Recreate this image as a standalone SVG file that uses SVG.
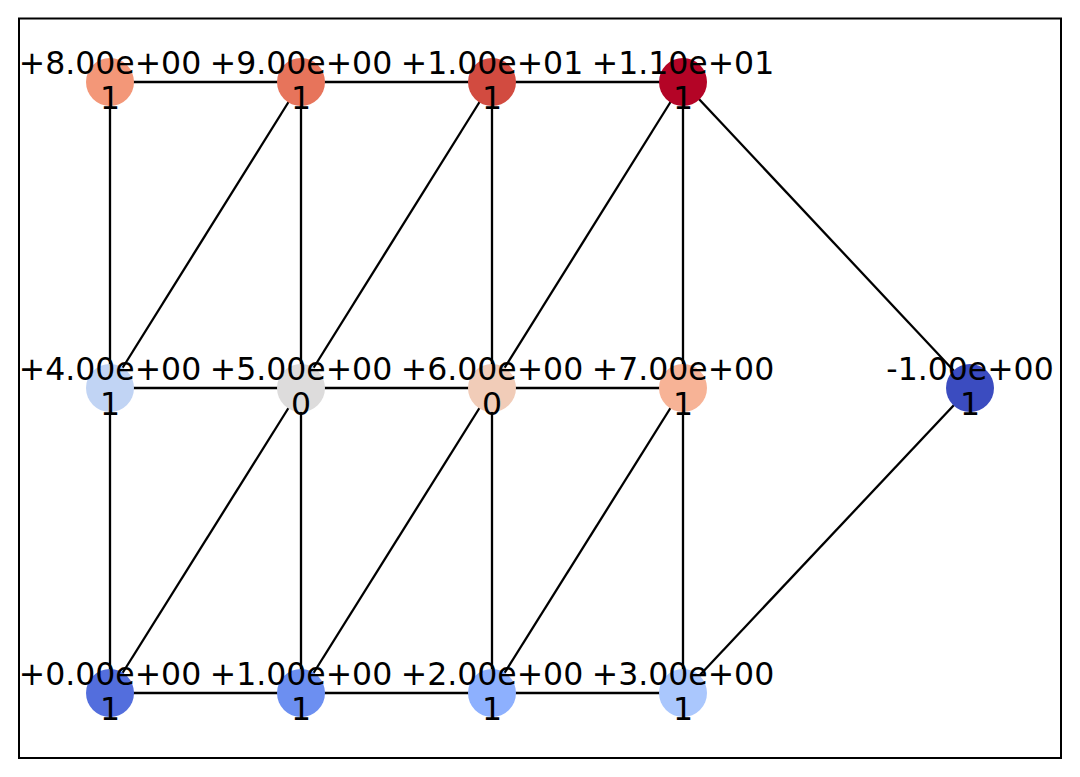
<svg xmlns="http://www.w3.org/2000/svg" width="1080" height="777" viewBox="0 0 1080 777">
<style>
.e{stroke:#000;stroke-width:2.3;fill:none}
.t{font-family:"DejaVu Sans",sans-serif;font-size:31.5px;fill:#000;text-anchor:middle}
</style>
<rect x="0" y="0" width="1080" height="777" fill="#fff"/>
<rect x="19" y="18.5" width="1042" height="739.5" fill="none" stroke="#000" stroke-width="2"/>
<g id="edges" class="e">
<line x1="110" y1="82" x2="301" y2="82"/>
<line x1="301" y1="82" x2="492" y2="82"/>
<line x1="492" y1="82" x2="683" y2="82"/>
<line x1="110" y1="388" x2="301" y2="388"/>
<line x1="301" y1="388" x2="492" y2="388"/>
<line x1="492" y1="388" x2="683" y2="388"/>
<line x1="110" y1="693" x2="301" y2="693"/>
<line x1="301" y1="693" x2="492" y2="693"/>
<line x1="492" y1="693" x2="683" y2="693"/>
<line x1="110" y1="82" x2="110" y2="388"/>
<line x1="110" y1="388" x2="110" y2="693"/>
<line x1="301" y1="82" x2="301" y2="388"/>
<line x1="301" y1="388" x2="301" y2="693"/>
<line x1="492" y1="82" x2="492" y2="388"/>
<line x1="492" y1="388" x2="492" y2="693"/>
<line x1="683" y1="82" x2="683" y2="388"/>
<line x1="683" y1="388" x2="683" y2="693"/>
<line x1="110" y1="388" x2="301" y2="82"/>
<line x1="301" y1="388" x2="492" y2="82"/>
<line x1="492" y1="388" x2="683" y2="82"/>
<line x1="110" y1="693" x2="301" y2="388"/>
<line x1="301" y1="693" x2="492" y2="388"/>
<line x1="492" y1="693" x2="683" y2="388"/>
<line x1="683" y1="82" x2="970" y2="388"/>
<line x1="970" y1="388" x2="683" y2="693"/>
</g>
<g id="n8"><circle cx="110" cy="82" r="24" fill="#f39778"/><text class="t" x="110" y="74">+8.00e+00</text><text class="t" x="110" y="109">1</text></g>
<g id="n9"><circle cx="301" cy="82" r="24" fill="#e7745b"/><text class="t" x="301" y="74">+9.00e+00</text><text class="t" x="301" y="109">1</text></g>
<g id="n10"><circle cx="492" cy="82" r="24" fill="#d24b40"/><text class="t" x="492" y="74">+1.00e+01</text><text class="t" x="492" y="109">1</text></g>
<g id="n11"><circle cx="683" cy="82" r="24" fill="#b40426"/><text class="t" x="683" y="74">+1.10e+01</text><text class="t" x="683" y="109">1</text></g>
<g id="n4"><circle cx="110" cy="388" r="24" fill="#c1d4f4"/><text class="t" x="110" y="380">+4.00e+00</text><text class="t" x="110" y="415">1</text></g>
<g id="n5"><circle cx="301" cy="388" r="24" fill="#dddcdc"/><text class="t" x="301" y="380">+5.00e+00</text><text class="t" x="301" y="415">0</text></g>
<g id="n6"><circle cx="492" cy="388" r="24" fill="#f1ccb8"/><text class="t" x="492" y="380">+6.00e+00</text><text class="t" x="492" y="415">0</text></g>
<g id="n7"><circle cx="683" cy="388" r="24" fill="#f7b396"/><text class="t" x="683" y="380">+7.00e+00</text><text class="t" x="683" y="415">1</text></g>
<g id="nm1"><circle cx="970" cy="388" r="24" fill="#3b4cc0"/><text class="t" x="970" y="380">-1.00e+00</text><text class="t" x="970" y="415">1</text></g>
<g id="n0"><circle cx="110" cy="693" r="24" fill="#536edd"/><text class="t" x="110" y="685">+0.00e+00</text><text class="t" x="110" y="720">1</text></g>
<g id="n1"><circle cx="301" cy="693" r="24" fill="#6c8ff1"/><text class="t" x="301" y="685">+1.00e+00</text><text class="t" x="301" y="720">1</text></g>
<g id="n2"><circle cx="492" cy="693" r="24" fill="#8db0fe"/><text class="t" x="492" y="685">+2.00e+00</text><text class="t" x="492" y="720">1</text></g>
<g id="n3"><circle cx="683" cy="693" r="24" fill="#aac7fd"/><text class="t" x="683" y="685">+3.00e+00</text><text class="t" x="683" y="720">1</text></g>
</svg>
